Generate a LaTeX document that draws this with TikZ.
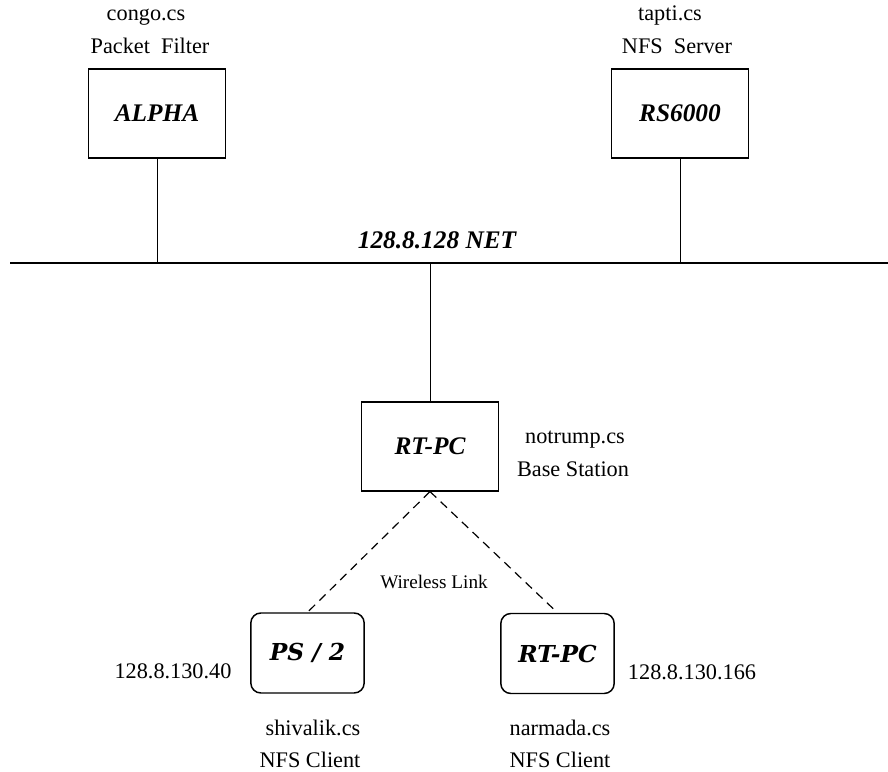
\documentclass[tikz,border=0pt]{standalone}
\usepackage{fontspec}
\setmainfont{Liberation Serif}
\newfontfamily\clientfont{DejaVu Serif}
\tikzset{>=latex}
\tikzset{
  hostbox/.style={draw, line width=1.1pt, minimum width=102.5pt, minimum height=66.5pt, inner sep=0pt, font=\fontsize{19}{22}\selectfont\bfseries\itshape},
  clientbox/.style={draw, rounded corners=7.5pt, line width=1.1pt, minimum width=85pt, minimum height=60pt, inner sep=0pt, font=\clientfont\fontsize{17.5}{20}\selectfont\bfseries\itshape},
  lbl/.style={inner sep=0pt, anchor=base, font=\fontsize{16.7}{20}\selectfont},
  wire/.style={line width=0.7pt},
  radio/.style={line width=0.9pt, dash pattern=on 6.5pt off 4.5pt},
}

\begin{document}
\begin{tikzpicture}[x=0.75pt, y=-0.75pt]
      \useasboundingbox (0,0) rectangle (888,771);
      % machines
      \node[hostbox] (alpha) at (157,113.5) {ALPHA};
      \node[hostbox] (rs) at (680,113.5) {RS6000};
      \node[hostbox] (base) at (430,446.5) {RT-PC};
      \node[clientbox] (ps2) at (307.5,653) {PS / 2};
      \node[clientbox] (rtpc) at (557.5,653.5) {RT-PC};
      % backbone
      \coordinate (netw) at (10,263);
      \coordinate (nete) at (888,263);
      \draw[line width=1.5pt] (netw) -- (nete);
      \node[lbl, font=\fontsize{19}{22}\selectfont\bfseries\itshape] (netname) at (437,248) {128.8.128 NET};
      % host labels
      \node[lbl] (alphaname) at (146,21) {congo.cs};
      \node[lbl] (alpharole) at (150,53) {Packet\ \ Filter};
      \node[lbl] (rsname) at (670,21) {tapti.cs};
      \node[lbl] (rsrole) at (677,53) {NFS\ \ Server};
      \node[lbl] (basename) at (575,443) {notrump.cs};
      \node[lbl] (baserole) at (573,476) {Base Station};
      \node[lbl, font=\fontsize{14.4}{17}\selectfont] (link) at (434,588) {Wireless Link};
      \node[lbl] (ps2addr) at (173,678) {128.8.130.40};
      \node[lbl] (rtpcaddr) at (692,679) {128.8.130.166};
      \node[lbl] (ps2name) at (313,735) {shivalik.cs};
      \node[lbl] (ps2role) at (310,767) {NFS Client};
      \node[lbl] (rtpcname) at (560,735) {narmada.cs};
      \node[lbl] (rtpcrole) at (560,767) {NFS Client};
      % links
      \draw[wire] (alpha.south) -- (alpha.south |- netw);
      \draw[wire] (rs.south) -- (rs.south |- netw);
      \draw[wire] (base.north |- netw) -- (base.north);
      \draw[radio] (base.south) -- (ps2.north);
      \draw[radio] (base.south) -- (rtpc.north);
    \end{tikzpicture}
\end{document}
